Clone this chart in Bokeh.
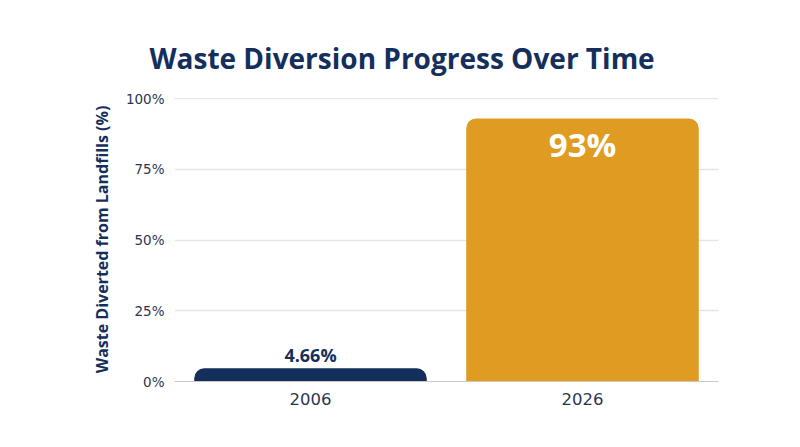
from bokeh.plotting import figure
from bokeh.models import ColumnDataSource, FactorRange, FixedTicker, CustomJSTickFormatter
from bokeh.embed import file_html
from bokeh.resources import INLINE
from bokeh.core.properties import value

title_text = "Waste Diversion Progress Over Time"
y_title = "Waste Diverted from Landfills (%)"
years = ["2006", "2026"]
diverted = [4.66, 93]
labels = ["4.66%", "93%"]
colors = ["#142f5c", "#e09b23"]
y_ticks = [0, 25, 50, 75, 100]

FONT = "Open Sans"
TICK_FONT = "DejaVu Sans"
NAVY = "#142f5c"

src = ColumnDataSource(dict(x=years, top=diverted, color=colors, label=labels))

p = figure(x_range=FactorRange(*years), y_range=(0, 100.4),
           width=784, height=431, frame_width=544, frame_height=284,
           min_border_left=174, min_border_right=66, min_border_top=97, min_border_bottom=50,
           output_backend="svg", toolbar_location=None, title=title_text)
p.outline_line_color = None
p.background_fill_color = "white"

p.title.text_font = FONT
p.title.text_font_size = "28px"
p.title.text_font_style = "bold"
p.title.text_color = NAVY
p.title.align = "left"
p.title.offset = -25
p.title.standoff = 42

p.vbar(x="x", top="top", width=0.855, source=src, fill_color="color", line_color=None,
       border_radius=(10, 10, 0, 0))

# value labels
small = ColumnDataSource(dict(x=[years[0]], y=[diverted[0]], t=[labels[0]]))
big = ColumnDataSource(dict(x=[years[1]], y=[diverted[1]], t=[labels[1]]))
p.text(x="x", y="y", text="t", source=small, text_align="center", text_baseline="bottom",
       y_offset=-1, text_font=value(FONT), text_font_size="18px", text_font_style="bold",
       text_color=NAVY)
p.text(x="x", y="y", text="t", source=big, text_align="center", text_baseline="top",
       y_offset=4, text_font=value(FONT), text_font_size="33px", text_font_style="bold",
       text_color="white")

p.yaxis.ticker = FixedTicker(ticks=y_ticks)
p.yaxis.formatter = CustomJSTickFormatter(code="return tick + '%'")
p.yaxis.axis_line_color = None
p.yaxis.major_tick_line_color = None
p.yaxis.minor_tick_line_color = None
p.yaxis.major_tick_out = 0
p.yaxis.major_label_standoff = 10
p.yaxis.major_label_text_font = TICK_FONT
p.yaxis.major_label_text_font_size = "13.5px"
p.yaxis.major_label_text_color = "#2c3550"
p.yaxis.axis_label = y_title
p.yaxis.axis_label_text_font = FONT
p.yaxis.axis_label_text_font_size = "16px"
p.yaxis.axis_label_text_font_style = "bold"
p.yaxis.axis_label_text_color = NAVY
p.yaxis.axis_label_standoff = 10

p.xaxis.axis_line_color = "#c8c8c8"
p.xaxis.major_tick_line_color = None
p.xaxis.minor_tick_line_color = None
p.xaxis.major_label_standoff = 5
p.xaxis.major_label_text_font = TICK_FONT
p.xaxis.major_label_text_font_size = "16.5px"
p.xaxis.major_label_text_color = "#2c3550"

p.xgrid.grid_line_color = None
p.ygrid.grid_line_color = "#e6e6e6"
p.ygrid.grid_line_width = 1.5

open("out.html", "w").write(file_html(p, INLINE))
